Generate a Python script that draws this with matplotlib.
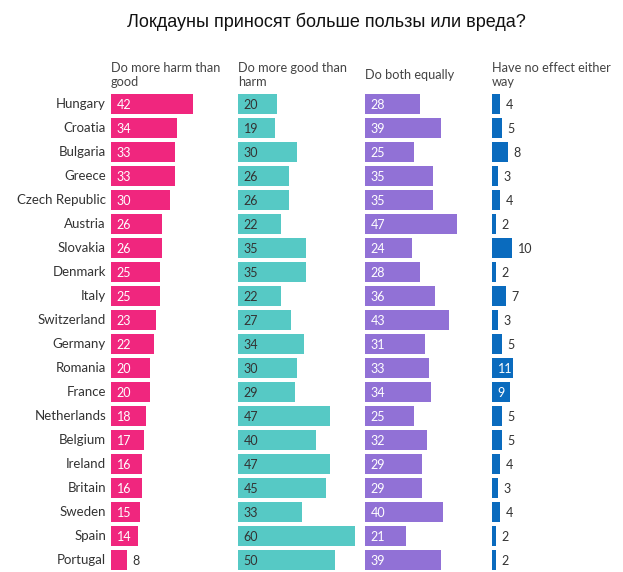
import matplotlib
matplotlib.use("Agg")
import matplotlib.pyplot as plt

countries = ["Hungary", "Croatia", "Bulgaria", "Greece", "Czech Republic", "Austria",
             "Slovakia", "Denmark", "Italy", "Switzerland", "Germany", "Romania",
             "France", "Netherlands", "Belgium", "Ireland", "Britain", "Sweden",
             "Spain", "Portugal"]
harm = [42, 34, 33, 33, 30, 26, 26, 25, 25, 23, 22, 20, 20, 18, 17, 16, 16, 15, 14, 8]
good = [20, 19, 30, 26, 26, 22, 35, 35, 22, 27, 34, 30, 29, 47, 40, 47, 45, 33, 60, 50]
both = [28, 39, 25, 35, 35, 47, 24, 28, 36, 43, 31, 33, 34, 25, 32, 29, 29, 40, 21, 39]
none = [4, 5, 8, 3, 4, 2, 10, 2, 7, 3, 5, 11, 9, 5, 5, 4, 3, 4, 2, 2]

headers = ["Do more harm than\ngood", "Do more good than\nharm", "Do both equally",
           "Have no effect either\nway"]
title = "Локдауны приносят больше пользы или вреда?"

series = [harm, good, both, none]
colors = ["#F0267E", "#56C9C5", "#9171D6", "#0A6BBE"]
inside_colors = ["white", "#333333", "white", "white"]
inside_rows_last = {"Romania", "France"}

W, H = 623, 572
fig = plt.figure(figsize=(W / 100, H / 100), dpi=100)
fig.text(326 / W, 1 - 22 / H, title, ha="center", va="center", fontsize=13,
         family="Liberation Sans", color="#111111")

font = "Lato"
top_px, bot_px = 92, 572
panel_x = [111, 238, 365, 492]
panel_w = 120
scale = 1.95  # px per unit

for i, (vals, col) in enumerate(zip(series, colors)):
    ax = fig.add_axes([panel_x[i] / W, 1 - bot_px / H, panel_w / W, (bot_px - top_px) / H])
    ax.set_xlim(0, panel_w / scale)
    ax.set_ylim(len(countries) - 0.5, -0.5)
    ax.barh(range(len(countries)), vals, height=0.83, color=col)
    ax.axis("off")
    for j, v in enumerate(vals):
        if i == 3:
            inside = countries[j] in inside_rows_last
        else:
            inside = v >= 12
        if inside:
            ax.text(5.5 / scale, j + 0.05, str(v), ha="left", va="center",
                    color=inside_colors[i], fontsize=9, family=font)
        else:
            ax.text(v + 6 / scale, j + 0.05, str(v), ha="left", va="center",
                    color="#333333", fontsize=9, family=font)
    if i == 0:
        for j, c in enumerate(countries):
            ax.text(-5 / scale, j, c, ha="right", va="center", color="#333333",
                    fontsize=9.5, family=font, clip_on=False)
    fig.text(panel_x[i] / W, 1 - 75 / H, headers[i], ha="left", va="center",
             fontsize=9.2, family=font, color="#444444", linespacing=1.1)

fig.savefig("out.png", dpi=100)
